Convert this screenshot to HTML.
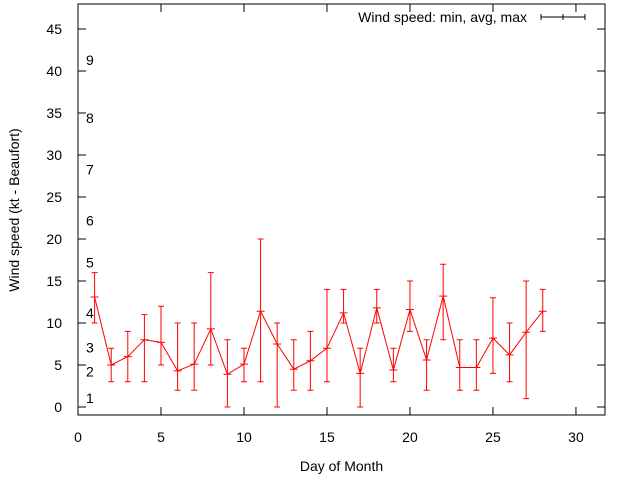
<!DOCTYPE html>
<html><head><meta charset="utf-8"><style>
body{margin:0;background:#fff;}
svg{display:block;font-family:"Liberation Sans",sans-serif;font-size:14px;}
</style></head><body>
<svg id="chart" width="640" height="480" xmlns="http://www.w3.org/2000/svg"></svg>
<script>
const days=[1,2,3,4,5,6,7,8,9,10,11,12,13,14,15,16,17,18,19,20,21,22,23,24,25,26,27,28];
const avgs=[13.1,5,6,8,7.7,4.3,5.1,9.3,3.9,5.1,11.4,7.5,4.5,5.5,7,11.2,4,11.8,4.4,11.6,5.6,13.2,4.7,4.7,8.2,6.2,8.9,11.4];
const mins=[10,3,3,3,5,2,2,5,0,3,3,0,2,2,3,10,0,10,3,9,2,8,2,2,4,3,1,9];
const maxs=[16,7,9,11,12,10,10,16,8,7,20,10,8,9,14,14,7,14,7,15,8,17,8,8,13,10,15,14];
const yTicks=[0,5,10,15,20,25,30,35,40,45];
const xTicks=[0,5,10,15,20,25,30];
const beaufortLabels=["1","2","3","4","5","6","7","8","9"];
const beaufortY=[1.1,4.2,7.1,11.2,17.2,22.2,28.3,34.4,41.3];

const NS="http://www.w3.org/2000/svg";
const svg=document.getElementById('chart');
const L=78,R=605,T=4,B=415;
const X=v=>L+v*(R-L)/31.75;
const Y=v=>407-v*8.4;
function mk(tag,attrs,parent){const e=document.createElementNS(NS,tag);for(const k in attrs)e.setAttribute(k,attrs[k]);(parent||svg).appendChild(e);return e;}

const frame=mk('rect',{x:L,y:T,width:R-L,height:B-T,fill:'none',stroke:'#000','stroke-width':1});



yTicks.forEach(v=>{
  const y=Y(v);
  const t=mk('line',{x1:L,x2:L+8,y1:y,y2:y,stroke:'#000'});
  
  
  const t2=mk('line',{x1:R-8,x2:R,y1:y,y2:y,stroke:'#000'});
  
  
  const tx=mk('text',{x:L-16,y:y+5,'text-anchor':'end',fill:'#000'});
  tx.textContent=v;
  
  
});
xTicks.forEach(v=>{
  const x=X(v);
  const t=mk('line',{x1:x,x2:x,y1:B,y2:B-8,stroke:'#000'});
  
  
  const t2=mk('line',{x1:x,x2:x,y1:T,y2:T+8,stroke:'#000'});
  
  
  const tx=mk('text',{x:x,y:B+27,'text-anchor':'middle',fill:'#000'});
  tx.textContent=v;
  
  
});
beaufortLabels.forEach((s,i)=>{
  const tx=mk('text',{x:86,y:Y(beaufortY[i])+5,fill:'#000'});
  tx.textContent=s;
  
  
});

const xt=mk('text',{x:(L+R)/2,y:471,'text-anchor':'middle',fill:'#000'});
xt.textContent='Day of Month';


const yt=mk('text',{x:0,y:0,'text-anchor':'middle',fill:'#000',transform:'translate(19,210) rotate(-90)'});
yt.textContent='Wind speed (kt - Beaufort)';



const lg=mk('text',{x:527,y:22,'text-anchor':'end',fill:'#000'});
lg.textContent='Wind speed: min, avg, max';


const lgl=mk('path',{d:'M541 17H585M541 14V20M585 14V20M563 14V20',stroke:'#000',fill:'none'});



const pts=days.map((d,i)=>X(d)+','+Y(avgs[i])).join(' ');
const line=mk('polyline',{points:pts,fill:'none',stroke:'#f00','stroke-width':1});


days.forEach((d,i)=>{
  const x=X(d),y1=Y(mins[i]),y2=Y(maxs[i]),ya=Y(avgs[i]);
  const e=mk('path',{d:`M${x} ${y1}V${y2}M${x-3} ${y1}H${x+3}M${x-3} ${y2}H${x+3}M${x-4} ${ya}H${x+4}`,stroke:'#f00',fill:'none','stroke-width':1});
  
  
});
</script>
</body></html>
